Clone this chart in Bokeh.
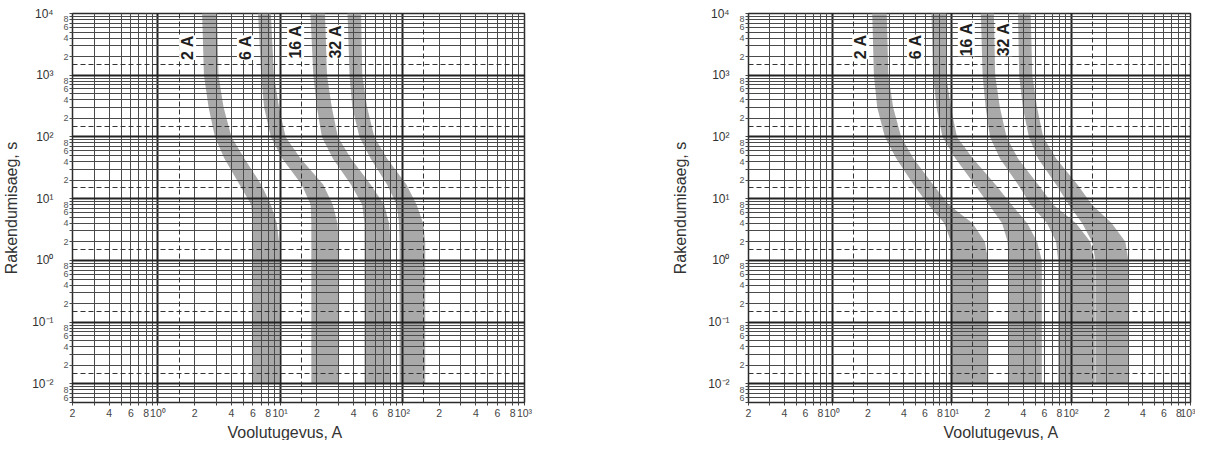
from math import pi
from bokeh.plotting import figure
from bokeh.layouts import row
from bokeh.models import Range1d, FixedTicker, LogAxis, Grid, Label, Title
from bokeh.embed import file_html
from bokeh.resources import INLINE

FONT = "Liberation Sans"

# ---------------- data: left chart (B characteristic) ----------------
left_time = [10000, 1000, 300, 100, 45, 17, 8, 4, 2, 0.01]
left_2A_min = [2.3, 2.38, 2.6, 2.93, 3.5, 4.65, 5.8, 6.0, 6.0, 6.0]
left_2A_max = [3.05, 3.13, 3.45, 4.0, 5.1, 7.0, 8.4, 9.4, 9.8, 9.8]
left_6A_min = [6.6, 7.0, 7.4, 8.4, 10.4, 15.0, 17.8, 18.0, 18.0, 18.0]
left_6A_max = [8.4, 8.9, 9.8, 11.1, 14.7, 22.5, 27.0, 29.5, 30.0, 30.0]
left_16A_min = [17.7, 18.7, 20.0, 22.0, 27.0, 38.0, 47.0, 49.0, 49.0, 49.0]
left_16A_max = [23.3, 24.2, 26.5, 29.7, 38.0, 55.0, 71.0, 78.0, 80.0, 80.0]
left_32A_min = [35.6, 37.0, 39.0, 44.6, 55.0, 75.0, 90.0, 94.0, 95.0, 95.0]
left_32A_max = [46.0, 47.0, 51.6, 59.0, 75.0, 108.0, 131.0, 148.0, 154.0, 154.0]

# ---------------- data: right chart (C characteristic) ----------------
right_time = [10000, 1000, 300, 100, 45, 17, 8, 4, 2, 1, 0.01]
right_2A_min = [2.17, 2.24, 2.39, 2.77, 3.45, 4.8, 6.4, 8.7, 9.9, 10.0, 10.0]
right_2A_max = [2.87, 2.96, 3.25, 3.79, 4.8, 7.0, 9.5, 15.0, 19.0, 20.3, 20.3]
right_6A_min = [6.8, 7.0, 7.5, 8.4, 10.8, 15.6, 20.6, 26.5, 29.5, 30.0, 30.0]
right_6A_max = [9.0, 9.0, 9.9, 11.1, 15.1, 23.3, 31.8, 43.0, 52.0, 57.0, 57.0]
right_16A_min = [17.6, 18.2, 19.3, 21.0, 25.4, 36.0, 46.0, 63.0, 75.0, 78.0, 78.0]
right_16A_max = [22.6, 23.2, 25.4, 28.9, 36.0, 53.0, 71.0, 110.0, 145.0, 158.0, 158.0]
right_32A_min = [36.0, 36.8, 39.5, 44.4, 53.0, 75.0, 96.0, 124.0, 150.0, 160.0, 160.0]
right_32A_max = [46.0, 47.4, 52.0, 58.5, 75.0, 113.0, 150.0, 219.0, 285.0, 302.0, 302.0]

# ---------------- labels ----------------
ratings = ["2 A", "6 A", "16 A", "32 A"]
left_label_x = [1.75, 5.2, 13.4, 28.5]
left_label_y = [2800, 2800, 3500, 3500]
right_label_x = [1.74, 5.0, 13.3, 27.4]
right_label_y = [2880, 2880, 3800, 3800]

x_title = "Voolutugevus, A"
y_title = "Rakendumisaeg, s"

x_major_ticks = [1, 10, 100, 1000]
x_major_labels = ["10⁰", "10¹", "10²", "10³"]
y_major_ticks = [0.01, 0.1, 1, 10, 100, 1000, 10000]
y_major_labels = ["10⁻²", "10⁻¹", "10⁰", "10¹", "10²", "10³", "10⁴"]
minor_mults = [2, 3, 4, 5, 6, 7, 8, 9]
minor_labelled = {2: "2", 4: "4", 6: "6", 8: "8"}
x_dashed = [1.5, 15, 150]
y_dashed = [0.015, 0.15, 1.5, 15, 150, 1500]

X_RANGE = (0.2, 1000)
Y_RANGE = (0.005, 10000)


def minor_ticks(lo, hi, exps):
    vals, labs = [], {}
    for e in exps:
        for m in minor_mults:
            v = round(m * 10.0 ** e, 6)
            if lo - 1e-9 <= v <= hi + 1e-9:
                vals.append(v)
                labs[v] = minor_labelled.get(m, "")
    return vals, labs


def panel(width, bl, br, bt, bb, times, bands, lab_x, lab_y, xt_off, yts):
    p = figure(width=width, height=440, x_axis_type="log", y_axis_type="log",
               x_range=Range1d(*X_RANGE), y_range=Range1d(*Y_RANGE),
               output_backend="svg", toolbar_location=None,
               min_border_left=bl, min_border_right=br,
               min_border_top=bt, min_border_bottom=bb,
               background_fill_color="white", border_fill_color="white")
    p.outline_line_color = "#2b2b2b"
    p.outline_line_width = 1.5
    p.xgrid.visible = False
    p.ygrid.visible = False

    xmin_v, xmin_l = minor_ticks(X_RANGE[0], X_RANGE[1], [-1, 0, 1, 2])
    ymin_v, ymin_l = minor_ticks(Y_RANGE[0], Y_RANGE[1], [-3, -2, -1, 0, 1, 2, 3])

    for lo, hi in bands:
        p.patch(x=lo + hi[::-1], y=times + times[::-1],
                fill_color="#a9a9a9", line_color=None)

    for dim, majors, minors in ((0, x_major_ticks, xmin_v), (1, y_major_ticks, ymin_v)):
        g = Grid(dimension=dim, ticker=FixedTicker(ticks=majors, minor_ticks=minors),
                 grid_line_color="#222222", grid_line_width=2,
                 minor_grid_line_color="#4a4a4a", minor_grid_line_width=1,
                 level="guide")
        p.add_layout(g)
    for dim, dticks in ((0, x_dashed), (1, y_dashed)):
        g = Grid(dimension=dim, ticker=FixedTicker(ticks=dticks, minor_ticks=[]),
                 grid_line_color="#333333", grid_line_width=1,
                 grid_line_dash="5 3", level="guide")
        p.add_layout(g)

    xa = p.xaxis[0]
    xov = dict(xmin_l)
    xov.update(dict(zip(x_major_ticks, x_major_labels)))
    xa.ticker = FixedTicker(ticks=sorted(x_major_ticks + xmin_v), minor_ticks=[])
    xa.major_label_overrides = xov
    xa.axis_line_color = None
    xa.major_tick_line_color = "#444444"
    xa.major_tick_out = 3
    xa.major_tick_in = 0
    xa.minor_tick_line_color = None
    xa.major_label_text_font = FONT
    xa.major_label_text_font_size = "10.5px"
    xa.major_label_text_color = "#444444"
    xa.major_label_standoff = 1

    ya = p.yaxis[0]
    yov = dict(ymin_l)
    for v in y_major_ticks:
        yov[v] = ""
    ya.ticker = FixedTicker(ticks=sorted(y_major_ticks + ymin_v), minor_ticks=[])
    ya.major_label_overrides = yov
    ya.axis_line_color = None
    ya.major_tick_line_color = "#444444"
    ya.major_tick_out = 3
    ya.major_tick_in = 0
    ya.minor_tick_line_color = None
    ya.major_label_text_font = FONT
    ya.major_label_text_font_size = "9px"
    ya.major_label_text_color = "#555555"
    ya.major_label_standoff = 1

    yo = LogAxis(ticker=FixedTicker(ticks=y_major_ticks, minor_ticks=[]),
                 major_label_overrides=dict(zip(y_major_ticks, y_major_labels)),
                 axis_line_color=None, major_tick_line_color=None, minor_tick_line_color=None,
                 major_label_text_font=FONT, major_label_text_font_size="12px",
                 major_label_text_color="#333333", major_label_standoff=1,
                 axis_label=y_title, axis_label_text_font=FONT,
                 axis_label_text_font_size="16px", axis_label_text_font_style="normal",
                 axis_label_text_color="#333333", axis_label_standoff=yts)
    p.add_layout(yo, "left")

    p.add_layout(Title(text=x_title, align="left", offset=xt_off, standoff=0,
                       text_font=FONT, text_font_size="16px", text_font_style="normal",
                       text_color="#333333"), "below")

    for txt, lx, ly in zip(ratings, lab_x, lab_y):
        p.add_layout(Label(x=lx, y=ly, text=txt, angle=pi / 2, text_align="center",
                           text_baseline="middle", text_font=FONT, text_font_style="bold",
                           text_font_size="16px", text_color="#1e1e1e",
                           background_fill_color="white"))
    return p


left = panel(640, 65, 116, 7, 36, left_time,
             [(left_2A_min, left_2A_max), (left_6A_min, left_6A_max),
              (left_16A_min, left_16A_max), (left_32A_min, left_32A_max)],
             left_label_x, left_label_y, 155, 9)
right = panel(555, 108, 5, 13, 36, right_time,
              [(right_2A_min, right_2A_max), (right_6A_min, right_6A_max),
               (right_16A_min, right_16A_max), (right_32A_min, right_32A_max)],
              right_label_x, right_label_y, 195, 16)

layout = row(left, right)
open("out.html", "w").write(file_html(layout, INLINE))
